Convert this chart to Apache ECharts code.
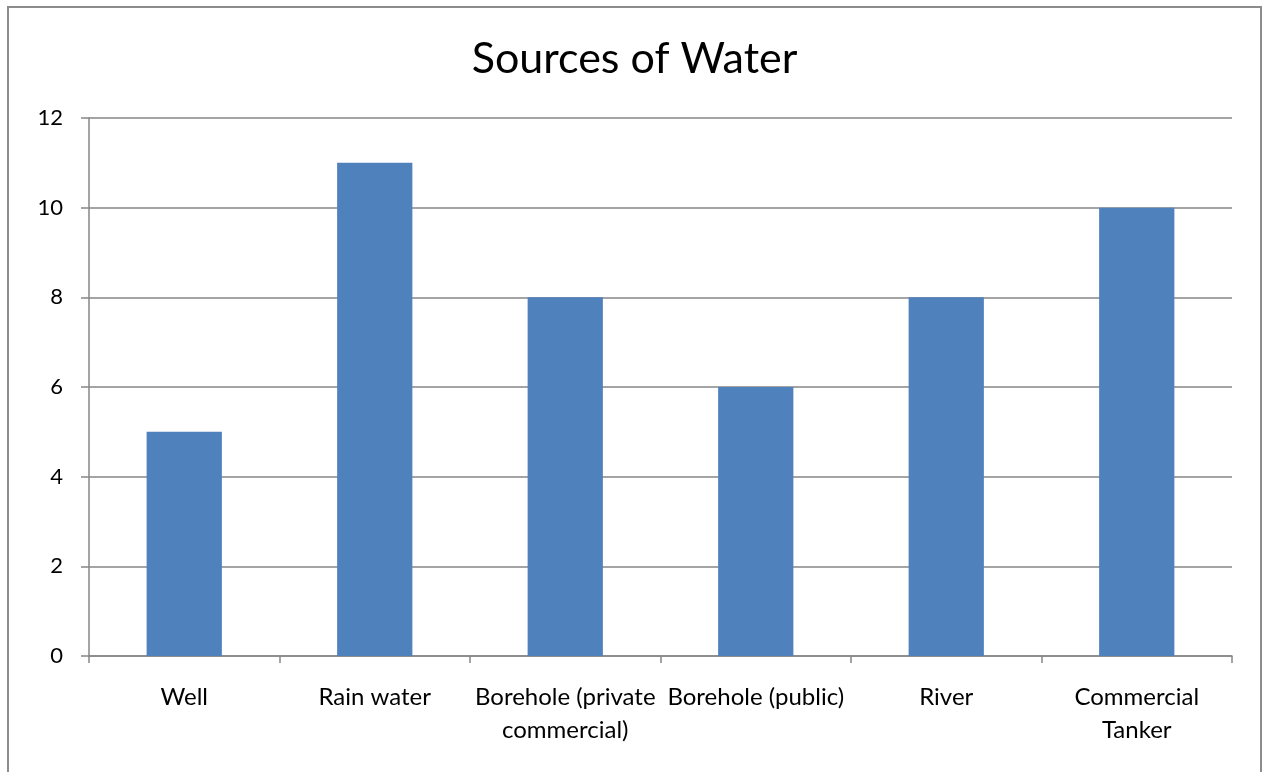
<!DOCTYPE html>
<html>
<head>
<meta charset="utf-8">
<title>Sources of Water</title>
<script src="https://cdn.jsdelivr.net/npm/echarts@6/dist/echarts.min.js"></script>
<style>
  html, body { margin: 0; padding: 0; background: #ffffff; }
  #chart { width: 1269px; height: 772px; }
</style>
</head>
<body>
<div id="chart"></div>
<script>
// Water sources and number of responses for each
const categories = ['Well', 'Rain water', 'Borehole (private\ncommercial)', 'Borehole (public)', 'River', 'Commercial\nTanker'];
const counts = [5, 11, 8, 6, 8, 10];
const yTicks = { min: 0, max: 12, interval: 2 };

const FONT = 'Lato, "Open Sans", sans-serif';
const GREY = '#868686';

const chart = echarts.init(document.getElementById('chart'), null, { renderer: 'canvas' });
chart.setOption({
  animation: false,
  backgroundColor: '#ffffff',
  title: {
    text: 'Sources of Water',
    left: 'center',
    top: 33,
    textStyle: { fontFamily: FONT, fontSize: 43, fontWeight: 'normal', color: '#000000' }
  },
  graphic: [{
    type: 'rect',
    shape: { x: 8, y: 7, width: 1253, height: 800 },
    style: { fill: 'none', stroke: '#8c8c8c', lineWidth: 2 },
    silent: true
  }],
  grid: { left: 89, right: 37, top: 118, bottom: 116, containLabel: false },
  xAxis: {
    type: 'category',
    data: categories,
    axisLine: { lineStyle: { color: GREY, width: 1.5 } },
    axisTick: { show: true, length: 7, lineStyle: { color: GREY, width: 1.5 } },
    axisLabel: {
      interval: 0,
      margin: 25,
      fontFamily: FONT, fontSize: 24, color: '#000000', lineHeight: 33
    }
  },
  yAxis: {
    type: 'value',
    min: yTicks.min, max: yTicks.max, interval: yTicks.interval,
    axisLine: { show: true, lineStyle: { color: GREY, width: 1.5 } },
    axisTick: { show: true, length: 8, lineStyle: { color: GREY, width: 1.5 } },
    axisLabel: { margin: 26, fontFamily: FONT, fontSize: 22, color: '#000000' },
    splitLine: { show: true, lineStyle: { color: GREY, width: 1.5 } }
  },
  series: [{
    type: 'bar',
    data: counts,
    barWidth: '39.5%',
    itemStyle: { color: '#4F81BD' }
  }]
});
</script>
</body>
</html>
